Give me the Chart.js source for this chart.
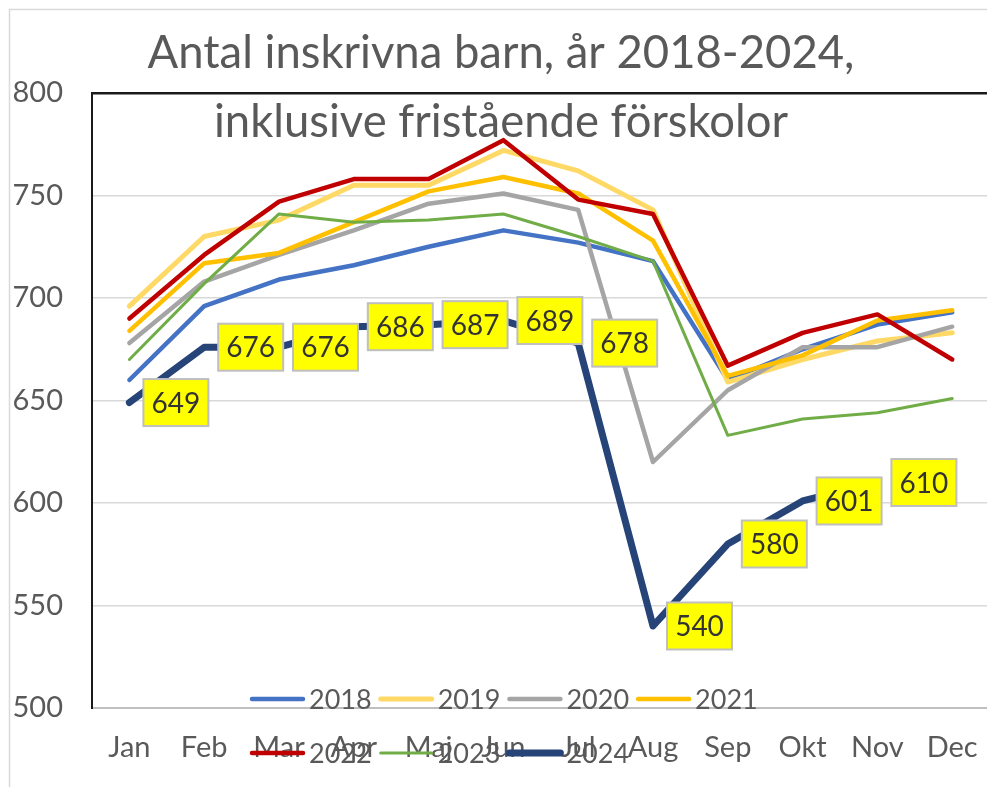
<!DOCTYPE html>
<html>
<head>
<meta charset="utf-8">
<script src="https://cdn.jsdelivr.net/npm/chart.js@4.4.1/dist/chart.umd.min.js"></script>
<style>
  html, body { margin: 0; padding: 0; background: #ffffff; overflow: hidden; }
  #wrap { width: 987px; height: 787px; overflow: hidden; position: relative; }
  canvas { display: block; }
</style>
</head>
<body>
<div id="wrap"><canvas id="c" width="1000" height="787" style="width:1000px;height:787px"></canvas></div>
<script>
// ---- Data ----
const months = ['Jan','Feb','Mar','Apr','Maj','Jun','Jul','Aug','Sep','Okt','Nov','Dec'];
const seriesNames = ['2018','2019','2020','2021','2022','2023','2024'];
const v2018 = [660, 696, 709, 716, 725, 733, 727, 718, 660, 675, 687, 693];
const v2019 = [696, 730, 738, 755, 755, 772, 762, 743, 659, 670, 679, 683];
const v2020 = [678, 708, 721, 733, 746, 751, 743, 620, 655, 676, 676, 686];
const v2021 = [684, 717, 722, 737, 752, 759, 751, 728, 662, 672, 689, 694];
const v2022 = [690, 721, 747, 758, 758, 777, 748, 741, 667, 683, 692, 670];
const v2023 = [670, 707, 741, 737, 738, 741, 730, 718, 633, 641, 644, 651];
const v2024 = [649, 676, 676, 686, 687, 689, 678, 540, 580, 601, 610, null];
const yTickValues = [500, 550, 600, 650, 700, 750, 800];
const titleLines = ['Antal inskrivna barn, år 2018-2024,', 'inklusive fristående förskolor'];

// ---- Styles ----
const colors = ['#4472C4', '#FFD966', '#A5A5A5', '#FFC000', '#C00000', '#70AD47', '#264478'];
const widths = [4.5, 5, 4.5, 4.5, 4.5, 3, 7];
const allValues = [v2018, v2019, v2020, v2021, v2022, v2023, v2024];
const FONT = 'Lato, "Open Sans", sans-serif';
const TEXT = '#595959';

const datasets = allValues.map((vals, i) => ({
  label: seriesNames[i],
  data: vals,
  borderColor: colors[i],
  backgroundColor: colors[i],
  borderWidth: widths[i],
  pointRadius: 0,
  pointHoverRadius: 0,
  tension: 0,
  fill: false,
  spanGaps: false,
  borderCapStyle: 'round',
  borderJoinStyle: 'round',
  order: seriesNames.length - 1 - i
}));

const framePlugin = {
  id: 'frame',
  beforeDraw(chart) {
    const ctx = chart.ctx;
    ctx.save();
    ctx.fillStyle = '#ffffff';
    ctx.fillRect(0, 0, chart.width, chart.height);
    ctx.strokeStyle = '#D9D9D9';
    ctx.lineWidth = 1.5;
    ctx.strokeRect(9.5, 9.5, 3000, 3000);
    ctx.restore();
  }
};

const labelPlugin = {
  id: 'dlabels',
  afterDatasetsDraw(chart) {
    const ctx = chart.ctx;
    const idx = seriesNames.indexOf('2024');
    const meta = chart.getDatasetMeta(idx);
    const vals = chart.data.datasets[idx].data;
    ctx.save();
    ctx.font = '28px ' + FONT;
    ctx.textAlign = 'center';
    ctx.textBaseline = 'middle';
    meta.data.forEach((pt, j) => {
      const v = vals[j];
      if (v === null || v === undefined) return;
      const txt = String(v);
      const w = 65, h = 47;
      const x0 = pt.x + 14, y0 = pt.y - h / 2;
      ctx.fillStyle = '#FFFF00';
      ctx.fillRect(x0, y0, w, h);
      ctx.strokeStyle = '#BFBFBF';
      ctx.lineWidth = 2;
      ctx.strokeRect(x0, y0, w, h);
      ctx.fillStyle = '#333333';
      ctx.fillText(txt, x0 + w / 2, y0 + h / 2 + 1);
    });
    ctx.restore();
  }
};

const overlayPlugin = {
  id: 'overlay',
  afterDraw(chart) {
    const ctx = chart.ctx;
    ctx.save();
    // title
    ctx.fillStyle = TEXT;
    ctx.textAlign = 'center';
    ctx.textBaseline = 'alphabetic';
    let size = 37;
    ctx.font = size + 'px ' + FONT;
    const w1 = ctx.measureText(titleLines[0]).width;
    size = size * 707 / w1;
    ctx.font = size.toFixed(2) + 'px ' + FONT;
    ctx.fillText(titleLines[0], 501, 68);
    ctx.fillText(titleLines[1], 501, 137);

    // legend
    ctx.font = '27px ' + FONT;
    ctx.textAlign = 'left';
    ctx.textBaseline = 'middle';
    const rows = [699, 753];
    const perRow = 4;
    chart.data.datasets.forEach((ds, i) => {
      const r = Math.floor(i / perRow);
      const c = i % perRow;
      const x = 250 + c * 128.7;
      const y = rows[r];
      ctx.strokeStyle = ds.borderColor;
      ctx.lineWidth = ds.borderWidth;
      ctx.lineCap = 'round';
      ctx.beginPath();
      ctx.moveTo(x + 2, y);
      ctx.lineTo(x + 53, y);
      ctx.stroke();
      ctx.fillStyle = TEXT;
      ctx.fillText(ds.label, x + 59, y + 1);
    });
    ctx.restore();
  }
};

new Chart(document.getElementById('c'), {
  type: 'line',
  data: { labels: months, datasets: datasets },
  options: {
    responsive: false,
    animation: false,
    devicePixelRatio: 1,
    layout: { padding: { top: 93, right: 7, left: 0, bottom: 0 } },
    plugins: {
      legend: { display: false },
      title: { display: false },
      tooltip: { enabled: false }
    },
    scales: {
      x: {
        offset: true,
        grid: { display: false, drawTicks: false },
        border: { display: true, color: '#BFBFBF', width: 2 },
        ticks: {
          color: TEXT,
          font: { family: FONT, size: 29 },
          padding: 22,
          autoSkip: false,
          maxRotation: 0,
          minRotation: 0
        },
        afterFit(scale) { scale.height = 79; }
      },
      y: {
        min: 500,
        max: 800,
        afterBuildTicks(scale) { scale.ticks = yTickValues.map(v => ({ value: v })); },
        grid: {
          drawTicks: false,
          color(ctx) {
            const v = ctx.tick && ctx.tick.value;
            if (v === 800) return '#1a1a1a';
            if (v === 500) return '#BFBFBF';
            return '#D9D9D9';
          },
          lineWidth(ctx) {
            const v = ctx.tick && ctx.tick.value;
            if (v === 800) return 2.5;
            if (v === 500) return 2;
            return 1.5;
          }
        },
        border: { display: true, color: '#1a1a1a', width: 2 },
        ticks: {
          color: TEXT,
          font: { family: FONT, size: 29 },
          padding: 29
        },
        afterFit(scale) { scale.width = 92; }
      }
    }
  },
  plugins: [framePlugin, labelPlugin, overlayPlugin]
});
</script>
</body>
</html>
